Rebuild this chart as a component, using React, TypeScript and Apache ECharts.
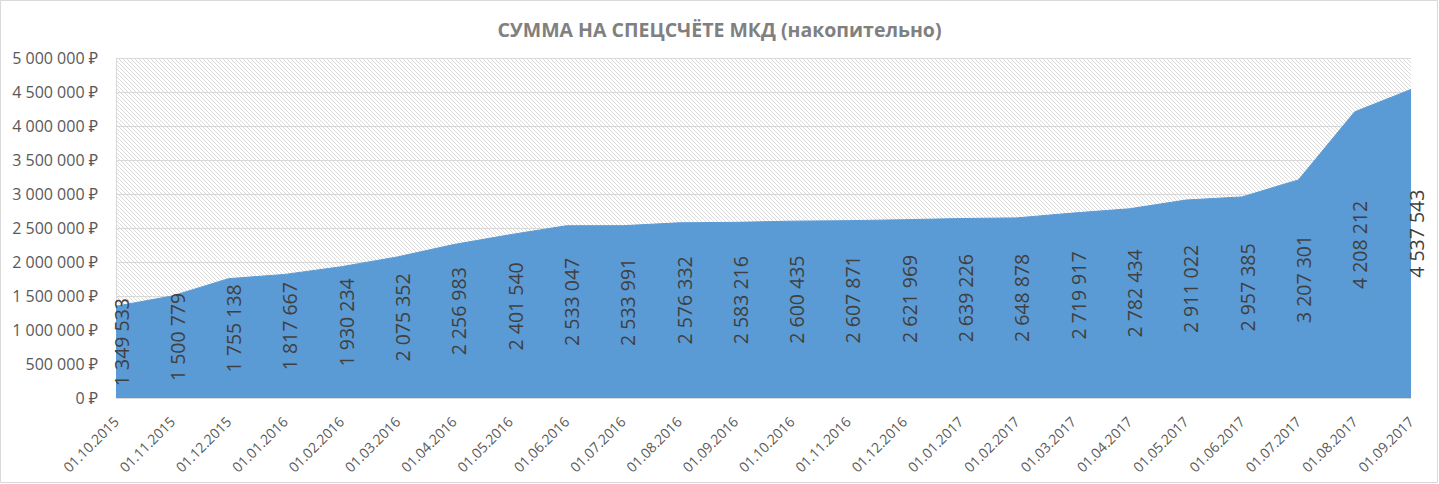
import React, { useEffect, useRef } from "react";
import * as echarts from "echarts";

const title = "СУММА НА СПЕЦСЧЁТЕ МКД (накопительно)";

const categories = [
  "01.10.2015", "01.11.2015", "01.12.2015",
  "01.01.2016", "01.02.2016", "01.03.2016", "01.04.2016", "01.05.2016", "01.06.2016",
  "01.07.2016", "01.08.2016", "01.09.2016", "01.10.2016", "01.11.2016", "01.12.2016",
  "01.01.2017", "01.02.2017", "01.03.2017", "01.04.2017", "01.05.2017", "01.06.2017",
  "01.07.2017", "01.08.2017", "01.09.2017",
];

const values = [
  1349533, 1500779, 1755138, 1817667, 1930234, 2075352, 2256983, 2401540, 2533047,
  2533991, 2576332, 2583216, 2600435, 2607871, 2621969, 2639226, 2648878, 2719917,
  2782434, 2911022, 2957385, 3207301, 4208212, 4537543,
];

const yMin = 0;
const yMax = 5000000;
const yStep = 500000;

const fmt = (v: number) => String(Math.round(v)).replace(/\B(?=(\d{3})+(?!\d))/g, " ");

const hatchSvg =
  "data:image/svg+xml;charset=utf-8," +
  encodeURIComponent(
    '<svg xmlns="http://www.w3.org/2000/svg" width="4" height="4"><rect width="4" height="4" fill="#ffffff"/><path d="M-1,-1 L5,5 M-1,3 L1,5 M3,-1 L5,1" stroke="#d6d6d6" stroke-width="0.9"/></svg>'
  );

export default function App() {
  const ref = useRef<HTMLDivElement>(null);
  useEffect(() => {
    document.body.style.margin = "0";
    const chart = echarts.init(ref.current!, null, { renderer: "svg" });
    const font = '"Open Sans", "Noto Sans", sans-serif';
    chart.setOption({
      animation: false,
      backgroundColor: "#ffffff",
      title: {
        text: title,
        left: "center",
        top: 14,
        textStyle: { fontFamily: font, fontSize: 19.5, fontWeight: "bold", color: "#808080" },
      },
      graphic: [
        {
          type: "rect",
          shape: { x: 0.5, y: 0.5, width: 1437, height: 482 },
          style: { fill: "none", stroke: "#d9d9d9", lineWidth: 1 },
          silent: true,
          z: 100,
        },
      ],
      grid: {
        left: 116,
        right: 28,
        top: 58,
        bottom: 86,
        show: true,
        borderWidth: 0,
        backgroundColor: { image: hatchSvg, repeat: "repeat", imageWidth: 4, imageHeight: 4 },
      },
      xAxis: {
        type: "category",
        data: categories,
        boundaryGap: false,
        axisLine: { show: true, lineStyle: { color: "#d9d9d9", width: 1 } },
        axisTick: { show: false },
        axisLabel: {
          rotate: 45,
          margin: 21,
          interval: 0,
          color: "#595959",
          fontFamily: font,
          fontSize: 14,
        },
        splitLine: { show: false },
      },
      yAxis: {
        type: "value",
        min: yMin,
        max: yMax,
        interval: yStep,
        axisLine: { show: true, lineStyle: { color: "#d9d9d9", width: 1 } },
        axisTick: { show: false },
        splitLine: { show: true, lineStyle: { color: "#d9d9d9", width: 1 } },
        axisLabel: {
          margin: 18,
          color: "#595959",
          fontFamily: font,
          fontSize: 16,
          formatter: (v: number) => fmt(v) + " ₽",
        },
      },
      series: [
        {
          type: "line",
          data: values,
          showSymbol: false,
          symbol: "none",
          lineStyle: { width: 1, color: "#5b9bd5" },
          areaStyle: { color: "#5b9bd5", opacity: 1 },
          z: 2,
        },
        {
          type: "custom",
          coordinateSystem: "cartesian2d",
          data: values.map((v, i) => [i, v]),
          encode: { x: 0, y: 1 },
          clip: false,
          z: 10,
          renderItem: (params: any, api: any) => {
            const v = api.value(1);
            const p = api.coord([api.value(0), v / 2]);
            return {
              type: "text",
              x: p[0] + 5,
              y: p[1] - 10,
              rotation: Math.PI / 2,
              style: {
                text: fmt(v),
                fill: "#404040",
                font: '19.5px "Open Sans", "Noto Sans", sans-serif',
                align: "center",
                verticalAlign: "middle",
              },
            };
          },
        },
      ],
    });
    return () => chart.dispose();
  }, []);
  return <div ref={ref} style={{ width: 1439, height: 484 }} />;
}
